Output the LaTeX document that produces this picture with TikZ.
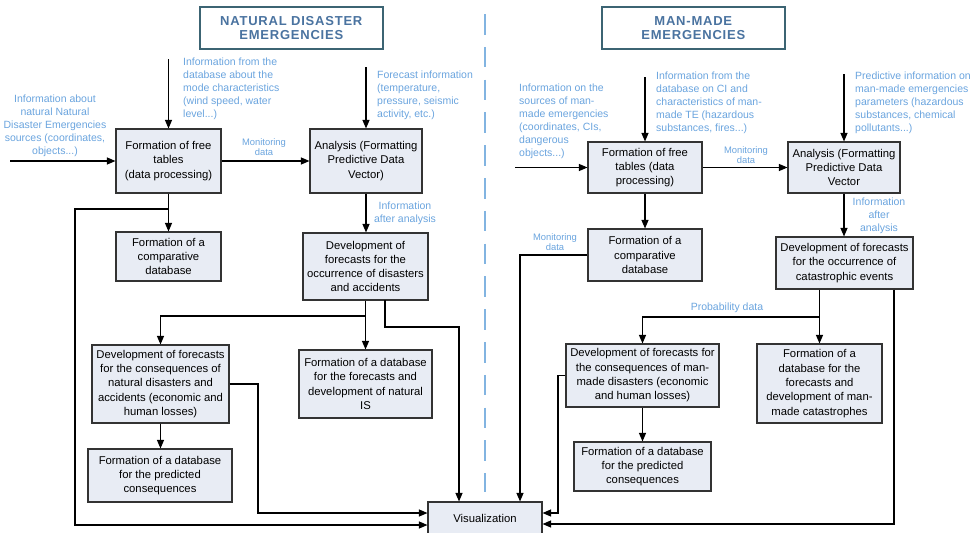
\documentclass[tikz,border=0pt]{standalone}
\usepackage{fontspec}
\setmainfont{Liberation Sans}
\newfontfamily\titlefont[LetterSpace=6]{Liberation Sans}
\usetikzlibrary{arrows.meta}
\definecolor{boxfill}{RGB}{232,236,244}
\definecolor{lbl}{RGB}{106,164,222}
\definecolor{ttl}{RGB}{74,115,160}
\definecolor{ttlborder}{RGB}{60,100,115}
\definecolor{dashc}{RGB}{130,180,225}
\begin{document}
\begin{tikzpicture}[x=1pt,y=-1pt,
 box/.style={draw=black!80, fill=boxfill, line width=1.1pt, align=center, inner sep=0pt, font=\fontsize{11.3}{14.3}\selectfont},
 lab/.style={text=lbl, align=left, inner sep=0pt, font=\fontsize{10.5}{13}\selectfont, anchor=west},
 clab/.style={text=lbl, align=center, inner sep=0pt, font=\fontsize{10.5}{13}\selectfont},
 slab/.style={text=lbl, align=center, inner sep=0pt, font=\fontsize{9.4}{10}\selectfont},
 arr/.style={line width=1.1pt, -{Triangle[length=8.5pt,width=7pt]}},
 ttlbox/.style={draw=ttlborder, line width=1.6pt, fill=white, align=center, font=\titlefont\bfseries\fontsize{13}{14}\selectfont, text=ttl, minimum width=183pt, minimum height=42pt, inner sep=0pt}
]
\useasboundingbox (0,0) rectangle (975,533);

% titles
\node[ttlbox] (tN) at (291.3,28) {NATURAL DISASTER\\EMERGENCIES};
\node[ttlbox] (tM) at (693.3,28) {MAN-MADE\\EMERGENCIES};

% separator
\draw[dashc, line width=1.5pt, dash pattern=on 20.5pt off 12.3pt] (485,14) -- (485,492);

% left boxes
\node[box, minimum width=105pt, minimum height=64pt] (L1) at (168.5,161) {Formation of free\\tables\\(data processing)};
\node[box, minimum width=112pt, minimum height=64pt] (L2) at (366,161) {Analysis (Formatting\\Predictive Data\\Vector)};
\node[box, minimum width=105pt, minimum height=49pt] (L3) at (168.5,256.5) {Formation of a\\comparative\\database};
\node[box, minimum width=125pt, minimum height=67pt] (L4) at (365.5,266.5) {Development of\\forecasts for the\\occurrence of disasters\\and accidents};
\node[box, minimum width=137pt, minimum height=78pt] (L5) at (160.5,384) {Development of forecasts\\for the consequences of\\natural disasters and\\accidents (economic and\\human losses)};
\node[box, minimum width=144pt, minimum height=53pt] (L6) at (160,475.5) {Formation of a database\\for the predicted\\consequences};
\node[box, minimum width=133pt, minimum height=68pt] (L7) at (365.5,384) {Formation of a database\\for the forecasts and\\development of natural\\IS};
\node[box, minimum width=114pt, minimum height=32pt] (V) at (485,518) {Visualization};

% right boxes
\node[box, minimum width=114pt, minimum height=51pt] (R1) at (645,167.5) {Formation of free\\tables (data\\processing)};
\node[box, minimum width=112pt, minimum height=51pt] (R2) at (844,167.5) {Analysis (Formatting\\Predictive Data\\Vector};
\node[box, minimum width=114pt, minimum height=52pt] (R3) at (645,255) {Formation of a\\comparative\\database};
\node[box, minimum width=137pt, minimum height=52pt] (R4) at (844.5,263) {Development of forecasts\\for the occurrence of\\catastrophic events};
\node[box, minimum width=153pt, minimum height=63pt] (R5) at (642.5,375.5) {Development of forecasts for\\the consequences of man-\\made disasters (economic\\and human losses)};
\node[box, minimum width=137pt, minimum height=49pt] (R6) at (642.5,466.5) {Formation of a database\\for the predicted\\consequences};
\node[box, minimum width=125pt, minimum height=79pt] (R7) at (819.5,383.5) {Formation of a\\database for the\\forecasts and\\development of man-\\made catastrophes};

% labels left
\node[clab] (lIn) at (55,126) {Information about\\natural Natural\\Disaster Emergencies\\sources (coordinates,\\objects...)};
\node[lab] (lTop1) at (183,89) {Information from the\\database about the\\mode characteristics\\(wind speed, water\\level...)};
\node[slab] (lMon1) at (264,147.5) {Monitoring\\data};
\node[lab] (lTop2) at (377,95) {Forecast information\\(temperature,\\pressure, seismic\\activity, etc.)};
\node[clab] (lAfter) at (405,213.5) {Information\\after analysis};

% labels right
\node[lab] (rIn) at (519,121) {Information on the\\sources of man-\\made emergencies\\(coordinates, CIs,\\dangerous\\objects...)};
\node[lab] (rTop1) at (656,103) {Information from the\\database on CI and\\characteristics of man-\\made TE (hazardous\\substances, fires...)};
\node[slab] (rMon1) at (746,155.5) {Monitoring\\data};
\node[lab] (rTop2) at (855,103) {Predictive information on\\man-made emergencies\\parameters (hazardous\\substances, chemical\\pollutants...)};
\node[clab] (rAfter) at (879,215.5) {Information\\after\\analysis};
\node[slab] (rMon2) at (555,242) {Monitoring\\data};
\node[clab] (rProb) at (727,308) {Probability data};

% coordinates
\coordinate (inL) at (10,161);
\coordinate (topL1) at (168.5,59);
\coordinate (topL2) at (366,67);
\coordinate (bL) at (168.5,209);
\coordinate (cL) at (75,525);
\coordinate (bL4) at (365.5,316);
\coordinate (s4) at (385,300);
\coordinate (k4) at (459,327);
\coordinate (k5) at (258,513);
\coordinate (inR) at (515,167.5);
\coordinate (topR1) at (645,77);
\coordinate (topR2) at (844,74);
\coordinate (k3) at (520,255);
\coordinate (bR4) at (819.5,317);
\coordinate (kR4) at (894,524);
\coordinate (kR5) at (558,513);

% left connectors
\draw[arr] (inL) -- (L1.west);
\draw[arr] (topL1) -- (L1.north);
\draw[arr] (L1.east) -- (L2.west);
\draw[arr] (topL2) -- (L2.north);
\draw[arr] (L2.south) -- (L2.south |- L4.north);
\draw[arr] (L1.south) -- (L3.north);
\draw[arr] (bL) -| (cL) -- (cL -| V.west);
\draw[arr] (L4.south) -- (L7.north);
\draw[arr] (bL4) -| (L5.north);
\draw[arr] (s4) |- (k4) -- (k4 |- V.north);
\draw[arr] (L5.south) -- (L5.south |- L6.north);
\draw[arr] (L5.east) -| (k5) -- (k5 -| V.west);

% right connectors
\draw[arr] (inR) -- (R1.west);
\draw[arr] (topR1) -- (R1.north);
\draw[arr] (R1.east) -- (R2.west);
\draw[arr] (topR2) -- (R2.north);
\draw[arr] (R2.south) -- (R2.south |- R4.north);
\draw[arr] (R1.south) -- (R3.north);
\draw[arr] (R3.west) -- (k3) -- (k3 |- V.north);
\draw[arr] (R4.south -| R7.north) -- (R7.north);
\draw[arr] (bR4) -| (R5.north);
\draw[arr] (R4.south -| kR4) -- (kR4) -- (kR4 -| V.east);
\draw[arr] (R5.west) -| (kR5) -- (kR5 -| V.east);
\draw[arr] (R5.south) -- (R5.south |- R6.north);
\end{tikzpicture}
\end{document}
